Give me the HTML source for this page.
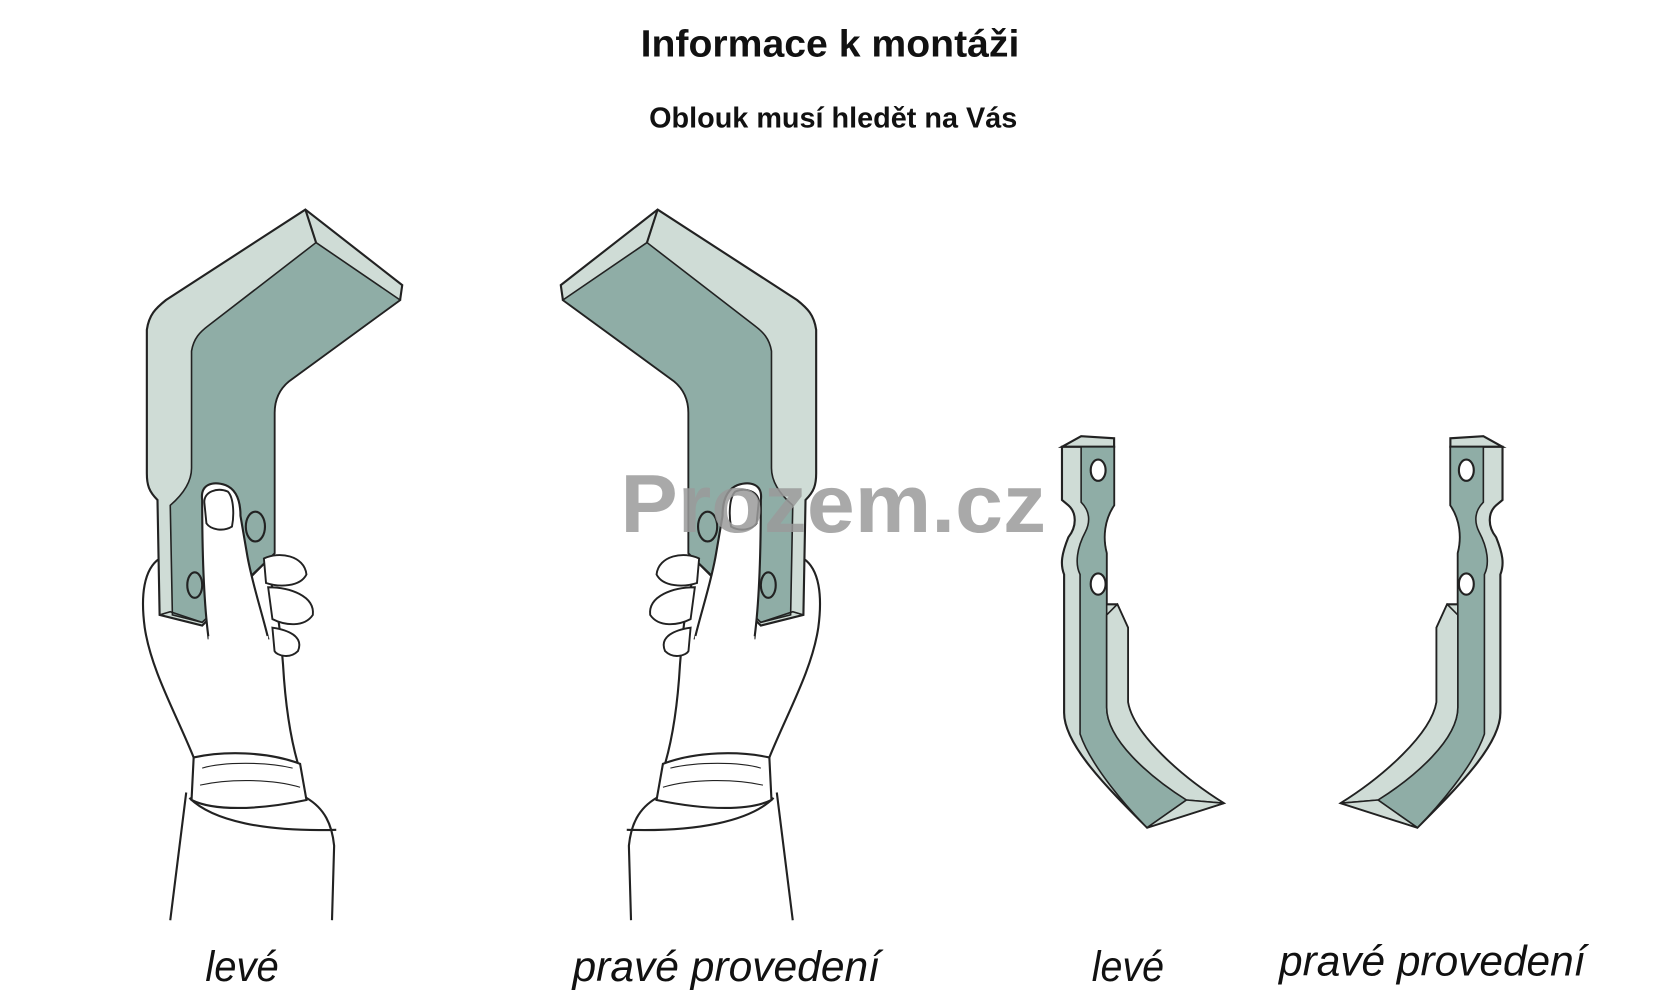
<!DOCTYPE html>
<html><head><meta charset="utf-8"><style>
html,body{margin:0;padding:0;background:#fff;width:1660px;height:1000px;overflow:hidden}
svg{display:block}
</style></head><body>
<svg width="1660" height="1000" viewBox="0 0 1560 940" preserveAspectRatio="none" xmlns="http://www.w3.org/2000/svg">
<defs>
<g id="bigblade">
  <!-- palm/forearm behind -->
  <path d="M150,525 C135,535 132,560 136,590 C142,630 165,670 182,712 L280,718 C272,690 268,660 266,625 C264,600 262,580 258,560 L250,530 Z" fill="#fff" stroke="#222" stroke-width="2"/>
  <!-- blade -->
  <path d="M287,197 L378,268 L376,282 L272,358 C262,366 258,376 258,388 L258,520 L190,588 L150,578 L148,470 C140,462 138,456 138,445 L138,310 C140,296 146,290 156,282 Z" fill="#cfdcd6" stroke="#222" stroke-width="2"/>
  <path d="M297,228 L376,282 L272,358 C262,366 258,376 258,388 L258,520 L190,585 L162,578 L160,475 C175,462 180,450 180,440 L180,330 C182,318 188,312 196,306 Z" fill="#8fada6" stroke="#222" stroke-width="1.5"/>
  <path d="M287,197 L297,228" stroke="#222" stroke-width="2" fill="none"/>
  <path d="M150,578 L160,575 L190,585" stroke="#222" stroke-width="1.5" fill="none"/>
  <ellipse cx="240" cy="495" rx="9" ry="14" fill="#8fada6" stroke="#222" stroke-width="2"/>
  <ellipse cx="183" cy="550" rx="7" ry="12" fill="#8fada6" stroke="#222" stroke-width="2"/>
  <!-- thumb -->
  <path d="M190,470 C188,455 200,452 212,456 C222,460 226,470 226,485 L232,520 C236,545 246,575 252,600 L196,600 C192,570 190,530 190,470 Z" fill="#fff" stroke="#222" stroke-width="2"/>
  <path d="M196,600 L252,600" stroke="#fff" stroke-width="4"/>
  <path d="M192,472 C192,462 204,458 214,462 C220,468 220,485 218,495 C210,500 198,498 194,492 Z" fill="#fff" stroke="#222" stroke-width="1.8"/>
  <!-- fingers -->
  <path d="M248,525 C262,518 286,522 288,540 C282,552 262,552 250,548 Z" fill="#fff" stroke="#222" stroke-width="1.8"/>
  <path d="M252,552 C272,552 296,560 294,578 C286,590 268,588 256,582 Z" fill="#fff" stroke="#222" stroke-width="1.8"/>
  <path d="M256,590 C270,592 286,598 280,612 C272,620 260,616 258,612 Z" fill="#fff" stroke="#222" stroke-width="1.8"/>
  <!-- cuff & sleeve -->
  <path d="M182,712 L180,752 C200,762 240,762 288,752 L282,718 C250,706 210,706 182,712 Z" fill="#fff" stroke="#222" stroke-width="2"/>
  <path d="M190,722 C210,716 250,716 275,722 M188,738 C215,732 255,732 282,740" stroke="#222" stroke-width="1" fill="none"/>
  <path d="M175,745 C172,770 168,800 160,865 M288,750 C305,760 312,775 314,795 L312,865 M178,750 C200,772 250,782 316,780" stroke="#222" stroke-width="2" fill="none"/>
</g>
<g id="smallblade">
  <path d="M998,420 L1016,410 L1047,412 L1047,420 Z" fill="#cfdcd6" stroke="#222" stroke-width="2"/>
  <path d="M998,420 L1047,420 L1047,475 C1038,488 1036,505 1040,520 L1040,568 L1050,568 L1060,590 L1060,660 C1065,690 1110,730 1150,755 L1078,778 C1040,740 1000,700 1000,670 L1000,540 C996,530 998,520 1004,505 C1012,495 1012,482 1004,475 L998,470 Z" fill="#cfdcd6" stroke="#222" stroke-width="2"/>
  <path d="M1016,420 L1047,420 L1047,475 C1038,488 1036,505 1040,520 L1040,575 L1040,665 C1040,695 1080,730 1115,752 L1078,778 C1060,760 1025,720 1015,690 L1015,540 C1010,530 1012,515 1020,500 C1025,490 1024,480 1016,472 Z" fill="#8fada6" stroke="#222" stroke-width="1.5"/>
  <path d="M1050,568 L1060,590 L1060,660 C1065,690 1110,730 1150,755 L1115,752 C1080,730 1040,695 1040,665 L1040,578 Z" fill="#cfdcd6" stroke="#222" stroke-width="1.5"/>
  <path d="M1115,752 L1150,755 L1078,778 Z" fill="#cfdcd6" stroke="#222" stroke-width="1.5"/>
  <ellipse cx="1032" cy="442" rx="7" ry="10" fill="#fff" stroke="#222" stroke-width="2"/>
  <ellipse cx="1032" cy="549" rx="7" ry="10" fill="#fff" stroke="#222" stroke-width="2"/>
</g>
</defs>
<text x="602" y="53" textLength="356" lengthAdjust="spacingAndGlyphs" font-family="'Liberation Sans',sans-serif" font-weight="bold" font-size="36" fill="#111">Informace k montáži</text>
<text x="610" y="120" textLength="346" lengthAdjust="spacingAndGlyphs" font-family="'Liberation Sans',sans-serif" font-weight="bold" font-size="27" fill="#111">Oblouk musí hledět na Vás</text>
<use href="#bigblade"/>
<use href="#bigblade" transform="translate(905,0) scale(-1,1)"/>
<use href="#smallblade"/>
<use href="#smallblade" transform="translate(2410,0) scale(-1,1)"/>
<text x="583" y="500" textLength="400" lengthAdjust="spacingAndGlyphs" font-family="'Liberation Sans',sans-serif" font-weight="bold" font-size="78" fill="#9a9a9a" fill-opacity="0.85">Prozem.cz</text>
<g font-family="'Liberation Sans',sans-serif" font-style="italic" font-size="40" fill="#111">
<text x="193" y="922" textLength="69" lengthAdjust="spacingAndGlyphs">levé</text>
<text x="538" y="922" textLength="289" lengthAdjust="spacingAndGlyphs">pravé provedení</text>
<text x="1026" y="922" textLength="68" lengthAdjust="spacingAndGlyphs">levé</text>
<text x="1202" y="917" textLength="288" lengthAdjust="spacingAndGlyphs">pravé provedení</text>
</g>
</svg>
</body></html>
